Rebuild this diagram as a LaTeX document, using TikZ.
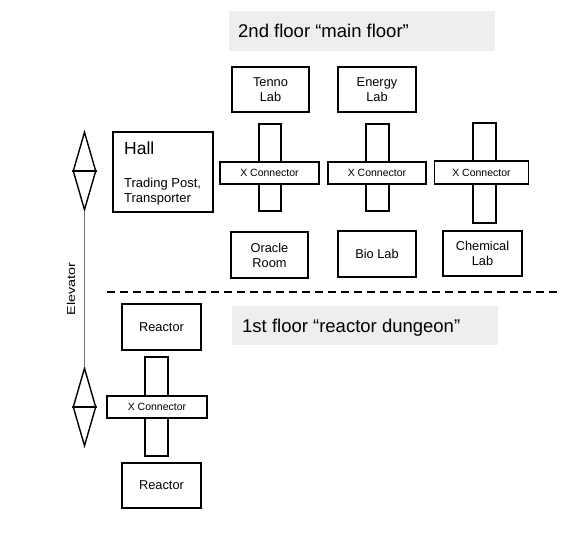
\documentclass[tikz,border=0pt]{standalone}
\usepackage{fontspec}
\setmainfont{Liberation Sans}
\usetikzlibrary{shapes.geometric}
\begin{document}
\begin{tikzpicture}[x=1pt,y=-1pt,
  room/.style={draw=black,line width=1.4pt,fill=white,inner sep=0pt,align=center,
    font=\fontsize{12.8}{15}\selectfont},
  bar/.style={draw=black,line width=1.4pt,fill=white,inner sep=0pt},
  xbar/.style={bar,minimum height=22pt,font=\fontsize{10.5}{12}\selectfont},
  floorbg/.style={fill=black!6.5,draw=none,inner sep=0pt},
  floortxt/.style={inner sep=0pt,anchor=base west,font=\fontsize{18.5}{22}\selectfont},
  lift/.style={diamond,draw=black,line width=1.4pt,inner sep=0pt,minimum width=23pt,minimum height=78pt},
  liftline/.style={draw=black,line width=1.2pt},
  halltxt/.style={inner sep=0pt,anchor=base west}
]
\useasboundingbox (0,0) rectangle (566,540);

% floor labels
\node[floorbg,minimum width=266pt,minimum height=40pt] (f2bg) at (362,31) {};
\node[floortxt] (f2) at (238,38) {2nd floor “main floor”};
\node[floorbg,minimum width=266pt,minimum height=39pt] (f1bg) at (365,325.5) {};
\node[floortxt] (f1) at (242,332.5) {1st floor “reactor dungeon”};

% dashed separator
\coordinate (dl) at (107,292);
\coordinate (dr) at (561,292);
\draw[line width=1.6pt,dash pattern=on 8pt off 5pt] (dl) -- (dr);

% elevator
\node[lift] (eu) at (84.5,171) {};
\node[lift] (el) at (84.5,407) {};
\draw[liftline] (eu.west) -- (eu.east);
\draw[liftline] (el.west) -- (el.east);
\draw[draw=black!55,line width=1.8pt] (eu.south) -- (el.north);
\node[rotate=90,inner sep=0pt,font=\fontsize{11.5}{13}\selectfont] (elev) at (71,289) {\scalebox{1.25}[1]{Elevator}};

% hall
\node[room,minimum width=100pt,minimum height=80pt] (hall) at (163,172) {};
\node[halltxt,font=\fontsize{17.5}{20}\selectfont] (hallt) at (124,155) {Hall};
\node[halltxt,font=\fontsize{13}{15}\selectfont] (halls1) at (124,188) {Trading Post,};
\node[halltxt,font=\fontsize{13}{15}\selectfont] (halls2) at (124,203) {Transporter};

% connector 1
\node[bar,minimum width=22pt,minimum height=87pt] (v1) at (270,167.5) {};
\node[xbar,minimum width=99pt] (h1) at (269.5,173) {X Connector};
\node[room,minimum width=77pt,minimum height=45pt] (tenno) at (270.5,89.5) {Tenno\\Lab};
\node[room,minimum width=77pt,minimum height=46pt] (oracle) at (269.5,255) {Oracle\\Room};

% connector 2
\node[bar,minimum width=23pt,minimum height=87pt] (v2) at (377.5,167.5) {};
\node[xbar,minimum width=98pt] (h2) at (377,173) {X Connector};
\node[room,minimum width=78pt,minimum height=45pt] (energy) at (377,89.5) {Energy\\Lab};
\node[room,minimum width=78pt,minimum height=46pt] (bio) at (377,254) {Bio Lab};

% connector 3
\node[bar,minimum width=23pt,minimum height=100pt] (v3) at (484.5,173) {};
\node[xbar,minimum width=94pt,minimum height=23pt] (h3) at (481.5,172.5) {X Connector};
\node[room,minimum width=79pt,minimum height=45pt] (chem) at (482.5,253.5) {Chemical\\Lab};

% reactor floor
\node[bar,minimum width=23pt,minimum height=99pt] (v4) at (156.5,406.5) {};
\node[xbar,minimum width=100pt] (h4) at (157,407) {X Connector};
\node[room,minimum width=79pt,minimum height=46pt] (r1) at (161.5,327) {Reactor};
\node[room,minimum width=79pt,minimum height=45pt] (r2) at (161.5,485.5) {Reactor};
\end{tikzpicture}
\end{document}
